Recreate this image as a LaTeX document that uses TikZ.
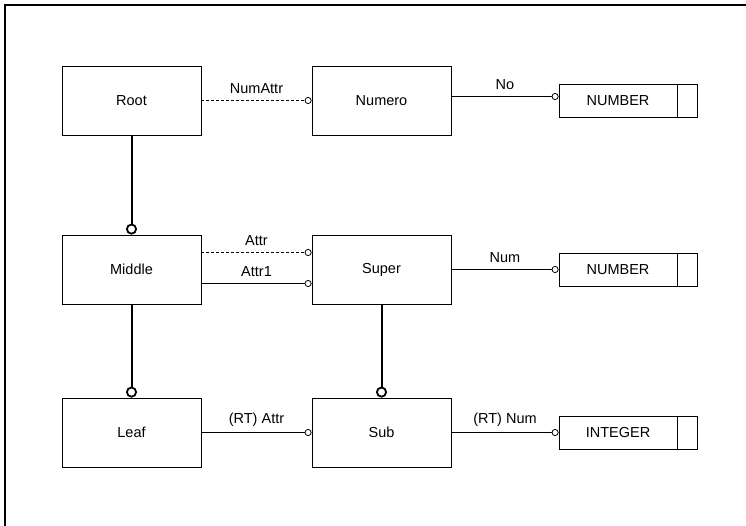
\documentclass[tikz,border=0pt]{standalone}
\usepackage{fontspec}
\setmainfont{Liberation Sans}
\usetikzlibrary{arrows.meta}
\tikzset{
  entity/.style={draw, line width=0.8pt, minimum width=139pt, minimum height=69pt,
    inner sep=0pt, font=\fontsize{14.5}{16}\selectfont},
  typebox/.style={draw, line width=0.8pt, minimum width=138pt, minimum height=33pt,
    inner sep=0pt},
  link/.style={line width=0.8pt, -{Circle[open,length=7pt,line width=0.8pt]}},
  isa/.style={line width=2pt, -{Circle[open,length=11pt,line width=1.8pt]}},
  dashlink/.style={link, dash pattern=on 3pt off 2pt},
  lbl/.style={midway, above=5pt, inner sep=1pt, font=\fontsize{14.5}{16}\selectfont}
}
\begin{document}
\begin{tikzpicture}[x=1pt, y=-1pt]
  \useasboundingbox (0,0) rectangle (746,526);
  % frame
  \draw[line width=1.6pt] (746,5) -- (5,5) -- (5,526);
  % entities
  \node[entity] (root)   at (131.5,100.5) {Root};
  \node[entity] (numero) at (381.5,100.5) {Numero};
  \node[entity] (middle) at (131.5,269.5) {Middle};
  \node[entity] (super)  at (381.5,269.5) {Super};
  \node[entity] (leaf)   at (131.5,432.5) {Leaf};
  \node[entity] (sub)    at (381.5,432.5) {Sub};
  % base types
  \foreach \name/\y/\txt in {tnum/100.5/NUMBER, tnumb/269.5/NUMBER, tint/432.5/INTEGER} {
    \node[typebox] (\name) at (628,\y) {};
    \draw[line width=0.8pt] ([xshift=-20pt]\name.north east) -- ([xshift=-20pt]\name.south east);
    \node[font=\fontsize{14.5}{16}\selectfont] at ([xshift=-10pt]\name.center) {\txt};
  }
  % attributes
  \draw[dashlink] (root.east) -- node[lbl] {NumAttr} (numero.west);
  \draw[link] ([yshift=4pt]numero.east) -- node[lbl] {No} ([yshift=4pt]tnum.west);
  \draw[dashlink] ([yshift=17pt]middle.east) -- node[lbl] {Attr} ([yshift=17pt]super.west);
  \draw[link] ([yshift=-14pt]middle.east) -- node[lbl] {Attr1} ([yshift=-14pt]super.west);
  \draw[link] (super.east) -- node[lbl] {Num} (tnumb.west);
  \draw[link] (leaf.east) -- node[lbl] {(RT) Attr} (sub.west);
  \draw[link] (sub.east) -- node[lbl] {(RT) Num} (tint.west);
  % inheritance
  \draw[isa] (root.south) -- (middle.north);
  \draw[isa] (middle.south) -- (leaf.north);
  \draw[isa] (super.south) -- (sub.north);
\end{tikzpicture}
\end{document}
